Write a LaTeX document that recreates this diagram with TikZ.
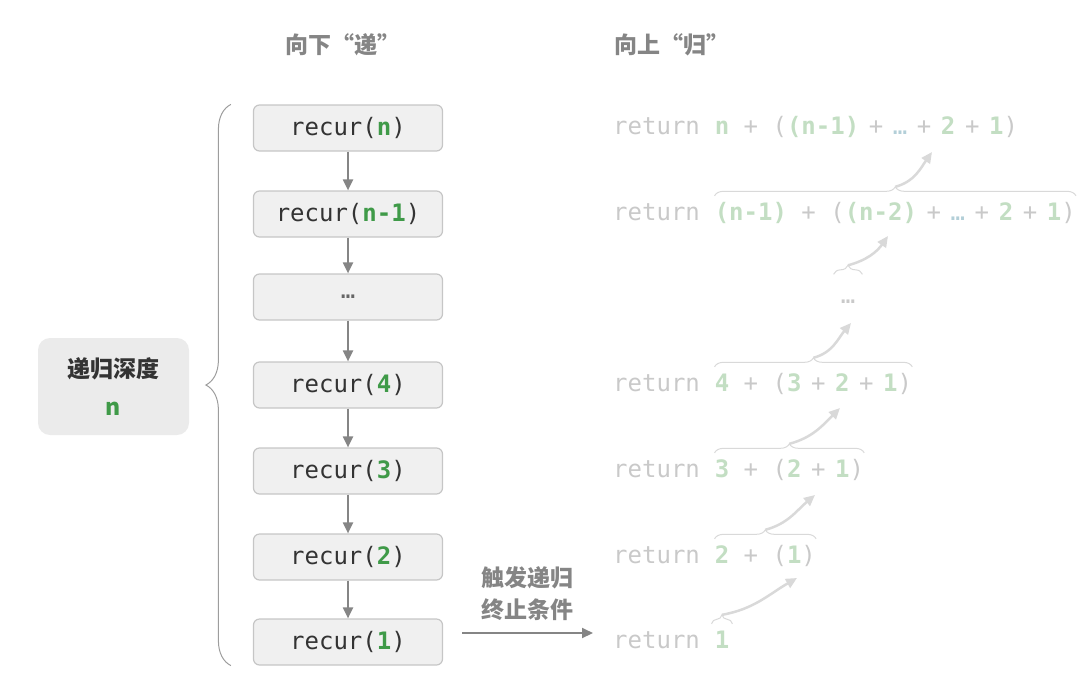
\documentclass[tikz,border=0pt]{standalone}
\usepackage{fontspec}
\usepackage{xcolor}
\usepackage{tikz}
\usetikzlibrary{positioning,arrows.meta,decorations.pathreplacing}
\setmonofont{DejaVu Sans Mono}
\newfontfamily\cjk{Noto Sans CJK SC}
\definecolor{boxfill}{HTML}{F0F0F0}
\definecolor{boxline}{HTML}{C6C6C6}
\definecolor{darktext}{HTML}{333333}
\definecolor{midgray}{HTML}{858585}
\definecolor{deepgreen}{HTML}{3F9A48}
\definecolor{palegreen}{HTML}{C3DEC3}
\definecolor{palegray}{HTML}{C9C9C9}
\definecolor{paleblue}{HTML}{B3CFD8}
\definecolor{bracegray}{HTML}{D9D9D9}
\definecolor{depthfill}{HTML}{EBEBEB}
\newcommand{\gv}[1]{\textcolor{deepgreen}{\bfseries #1}}
\newcommand{\pv}[1]{\textcolor{palegreen}{\bfseries #1}}
\newcommand{\tp}{\hspace{0.4em}+\hspace{0.4em}}

\begin{document}
\begin{tikzpicture}[x=1pt,y=-1pt,
  call/.style={draw=boxline, fill=boxfill, line width=1.2pt, rounded corners=6pt,
    minimum width=189pt, minimum height=46pt, inner sep=0pt,
    font=\ttfamily\fontsize{24}{28}\selectfont, text=darktext},
  flow/.style={midgray, line width=2pt, -{Triangle[length=11pt,width=10pt]}},
  ret/.style={inner sep=0pt, text height=18pt, text depth=5pt,
    font=\ttfamily\fontsize{24}{28}\selectfont, text=palegray},
  upbrace/.style={bracegray, line width=1pt, decorate, decoration={brace, amplitude=9pt}},
  back/.style={bracegray, line width=2.5pt, -{Triangle[length=11pt,width=10pt]}},
  title/.style={font=\cjk\bfseries\fontsize{23}{32}\selectfont, text=midgray}]
\useasboundingbox (0,0) rectangle (1086,686);

\node[title] (down) at (343,45) {向下“递”};
\node[title] (up) at (672,45) {向上“归”};

\node[call] (cn) at (348,128) {recur(\gv{n})};
\node[call] (cn1) at (348,214) {recur(\gv{n-1})};
\node[call, text=darktext!75] (cdots) at (348,297) {\mdseries …};
\node[call] (c4) at (348,385) {recur(\gv{4})};
\node[call] (c3) at (348,471) {recur(\gv{3})};
\node[call] (c2) at (348,557) {recur(\gv{2})};
\node[call] (c1) at (348,642) {recur(\gv{1})};
\draw[flow] (cn) -- (cn1);
\draw[flow] (cn1) -- (cdots);
\draw[flow] (cdots) -- (c4);
\draw[flow] (c4) -- (c3);
\draw[flow] (c3) -- (c2);
\draw[flow] (c2) -- (c1);

\draw[midgray!80, line width=1pt, decorate, decoration={brace, amplitude=25pt}]
  ([xshift=-22pt]c1.south west) -- ([xshift=-22pt]cn.north west);
\node[fill=depthfill, rounded corners=12pt, minimum width=151pt, minimum height=97pt,
  align=center, text=darktext, font=\cjk\bfseries\fontsize{23}{38}\selectfont]
  (depth) at (113.5,386.5) {递归深度\\\textcolor{deepgreen}{n}};

\node[ret, anchor=west] (rn) at (613,128) {return};
\node[ret, base right=14.45pt of rn] (en) {\pv{n} + (\pv{(n-1)}\tp\textcolor{paleblue}{…}\tp\pv{2}\tp\pv{1})};
\node[ret, anchor=west] (rn1) at (613,214) {return};
\node[ret, base right=14.45pt of rn1] (en1) {\pv{(n-1)} + (\pv{(n-2)}\tp\textcolor{paleblue}{…}\tp\pv{2}\tp\pv{1})};
\node[ret] (rdots) at (848,297) {…};
\node[ret, anchor=west] (r4) at (613,385) {return};
\node[ret, base right=14.45pt of r4] (e4) {\pv{4} + (\pv{3}\tp\pv{2}\tp\pv{1})};
\node[ret, anchor=west] (r3) at (613,471) {return};
\node[ret, base right=14.45pt of r3] (e3) {\pv{3} + (\pv{2}\tp\pv{1})};
\node[ret, anchor=west] (r2) at (613,557) {return};
\node[ret, base right=14.45pt of r2] (e2) {\pv{2} + (\pv{1})};
\node[ret, anchor=west] (r1) at (613,642) {return};
\node[ret, base right=14.45pt of r1] (e1) {\pv{1}};

\node[title, align=center] (stop) at (527,594) {触发递归\\终止条件};
\draw[flow] ([xshift=19pt,yshift=9pt]c1.east) -- ([xshift=-20pt,yshift=9pt]r1.west);

\draw[upbrace] ([yshift=6.5pt]en1.north west) -- ([yshift=6.5pt]en1.north east);
\draw[upbrace] ([xshift=-7pt,yshift=11pt]rdots.north west) -- ([xshift=7pt,yshift=11pt]rdots.north east);
\draw[upbrace] ([yshift=6.5pt]e4.north west) -- ([yshift=6.5pt]e4.north east);
\draw[upbrace] ([yshift=6.5pt]e3.north west) -- ([yshift=6.5pt]e3.north east);
\draw[upbrace] ([yshift=6.5pt]e2.north west) -- ([yshift=6.5pt]e2.north east);
\draw[upbrace] ([xshift=-3pt,yshift=6.5pt]e1.north west) -- ([xshift=3pt,yshift=6.5pt]e1.north east);

\coordinate (tn) at (932,152);
\coordinate (tn1) at (888,236);
\coordinate (tdots) at (851,323);
\coordinate (t4) at (840,408);
\coordinate (t3) at (815,495);
\coordinate (t2) at (797,578);
\draw[back] ([yshift=15.5pt]en1.north) to[out=15, in=235] (tn);
\draw[back] ([yshift=20pt]rdots.north) to[out=15, in=235] (tn1);
\draw[back] ([yshift=15.5pt]e4.north) to[out=15, in=230] (tdots);
\draw[back] ([yshift=15.5pt]e3.north) to[out=15, in=225] (t4);
\draw[back] ([yshift=15.5pt]e2.north) to[out=15, in=220] (t3);
\draw[back] ([yshift=15.5pt]e1.north) to[out=10, in=210] (t2);
\end{tikzpicture}
\end{document}
